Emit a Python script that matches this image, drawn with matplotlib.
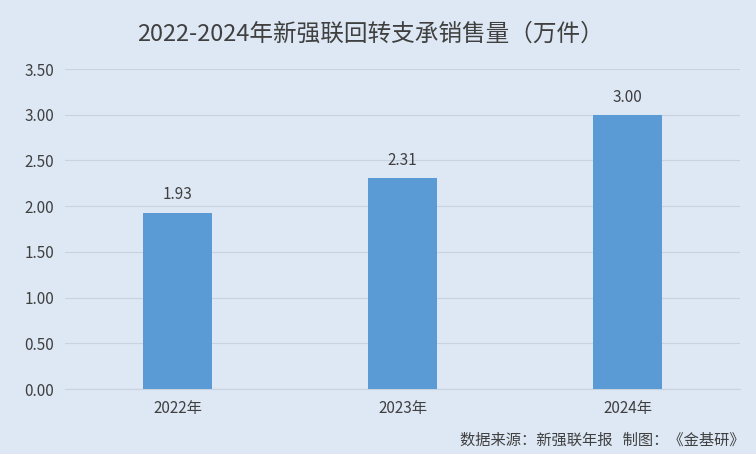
import matplotlib
matplotlib.use("Agg")
import matplotlib.pyplot as plt

plt.rcParams["font.family"] = ["Noto Sans CJK SC", "DejaVu Sans"]

years = ["2022年", "2023年", "2024年"]
sales = [1.93, 2.31, 3.00]
yticks = [0.0, 0.5, 1.0, 1.5, 2.0, 2.5, 3.0, 3.5]

bg = "#dde8f4"
fig = plt.figure(figsize=(7.56, 4.54), dpi=100, facecolor=bg)
ax = fig.add_axes([0.086, 0.143, 0.893, 0.705], facecolor=bg)

x = range(len(years))
bars = ax.bar(x, sales, width=0.31, color="#5b9bd5", zorder=3)
for xi, v in zip(x, sales):
    ax.text(xi, v + 0.1, f"{v:.2f}", ha="center", va="bottom", fontsize=11, color="#404040")

ax.set_xlim(-0.5, 2.5)
ax.set_ylim(0, 3.5)
ax.set_yticks(yticks)
ax.set_yticklabels([f"{t:.2f}" for t in yticks], fontsize=11, color="#404040")
ax.set_xticks(list(x))
ax.set_xticklabels(years, fontsize=11, color="#404040")
ax.grid(axis="y", color="#c8d3df", linewidth=0.8, zorder=0)
ax.tick_params(length=0, pad=8)
for side in ["top", "right", "left"]:
    ax.spines[side].set_visible(False)
ax.spines["bottom"].set_color("#c8d3df")

fig.text(0.49, 0.925, "2022-2024年新强联回转支承销售量（万件）", ha="center", va="center",
         fontsize=17, color="#404040")
fig.text(0.985, 0.03, "数据来源：新强联年报   制图：《金基研》", ha="right", va="center",
         fontsize=11, color="#404040")

fig.savefig("out.png", dpi=100, facecolor=bg)
